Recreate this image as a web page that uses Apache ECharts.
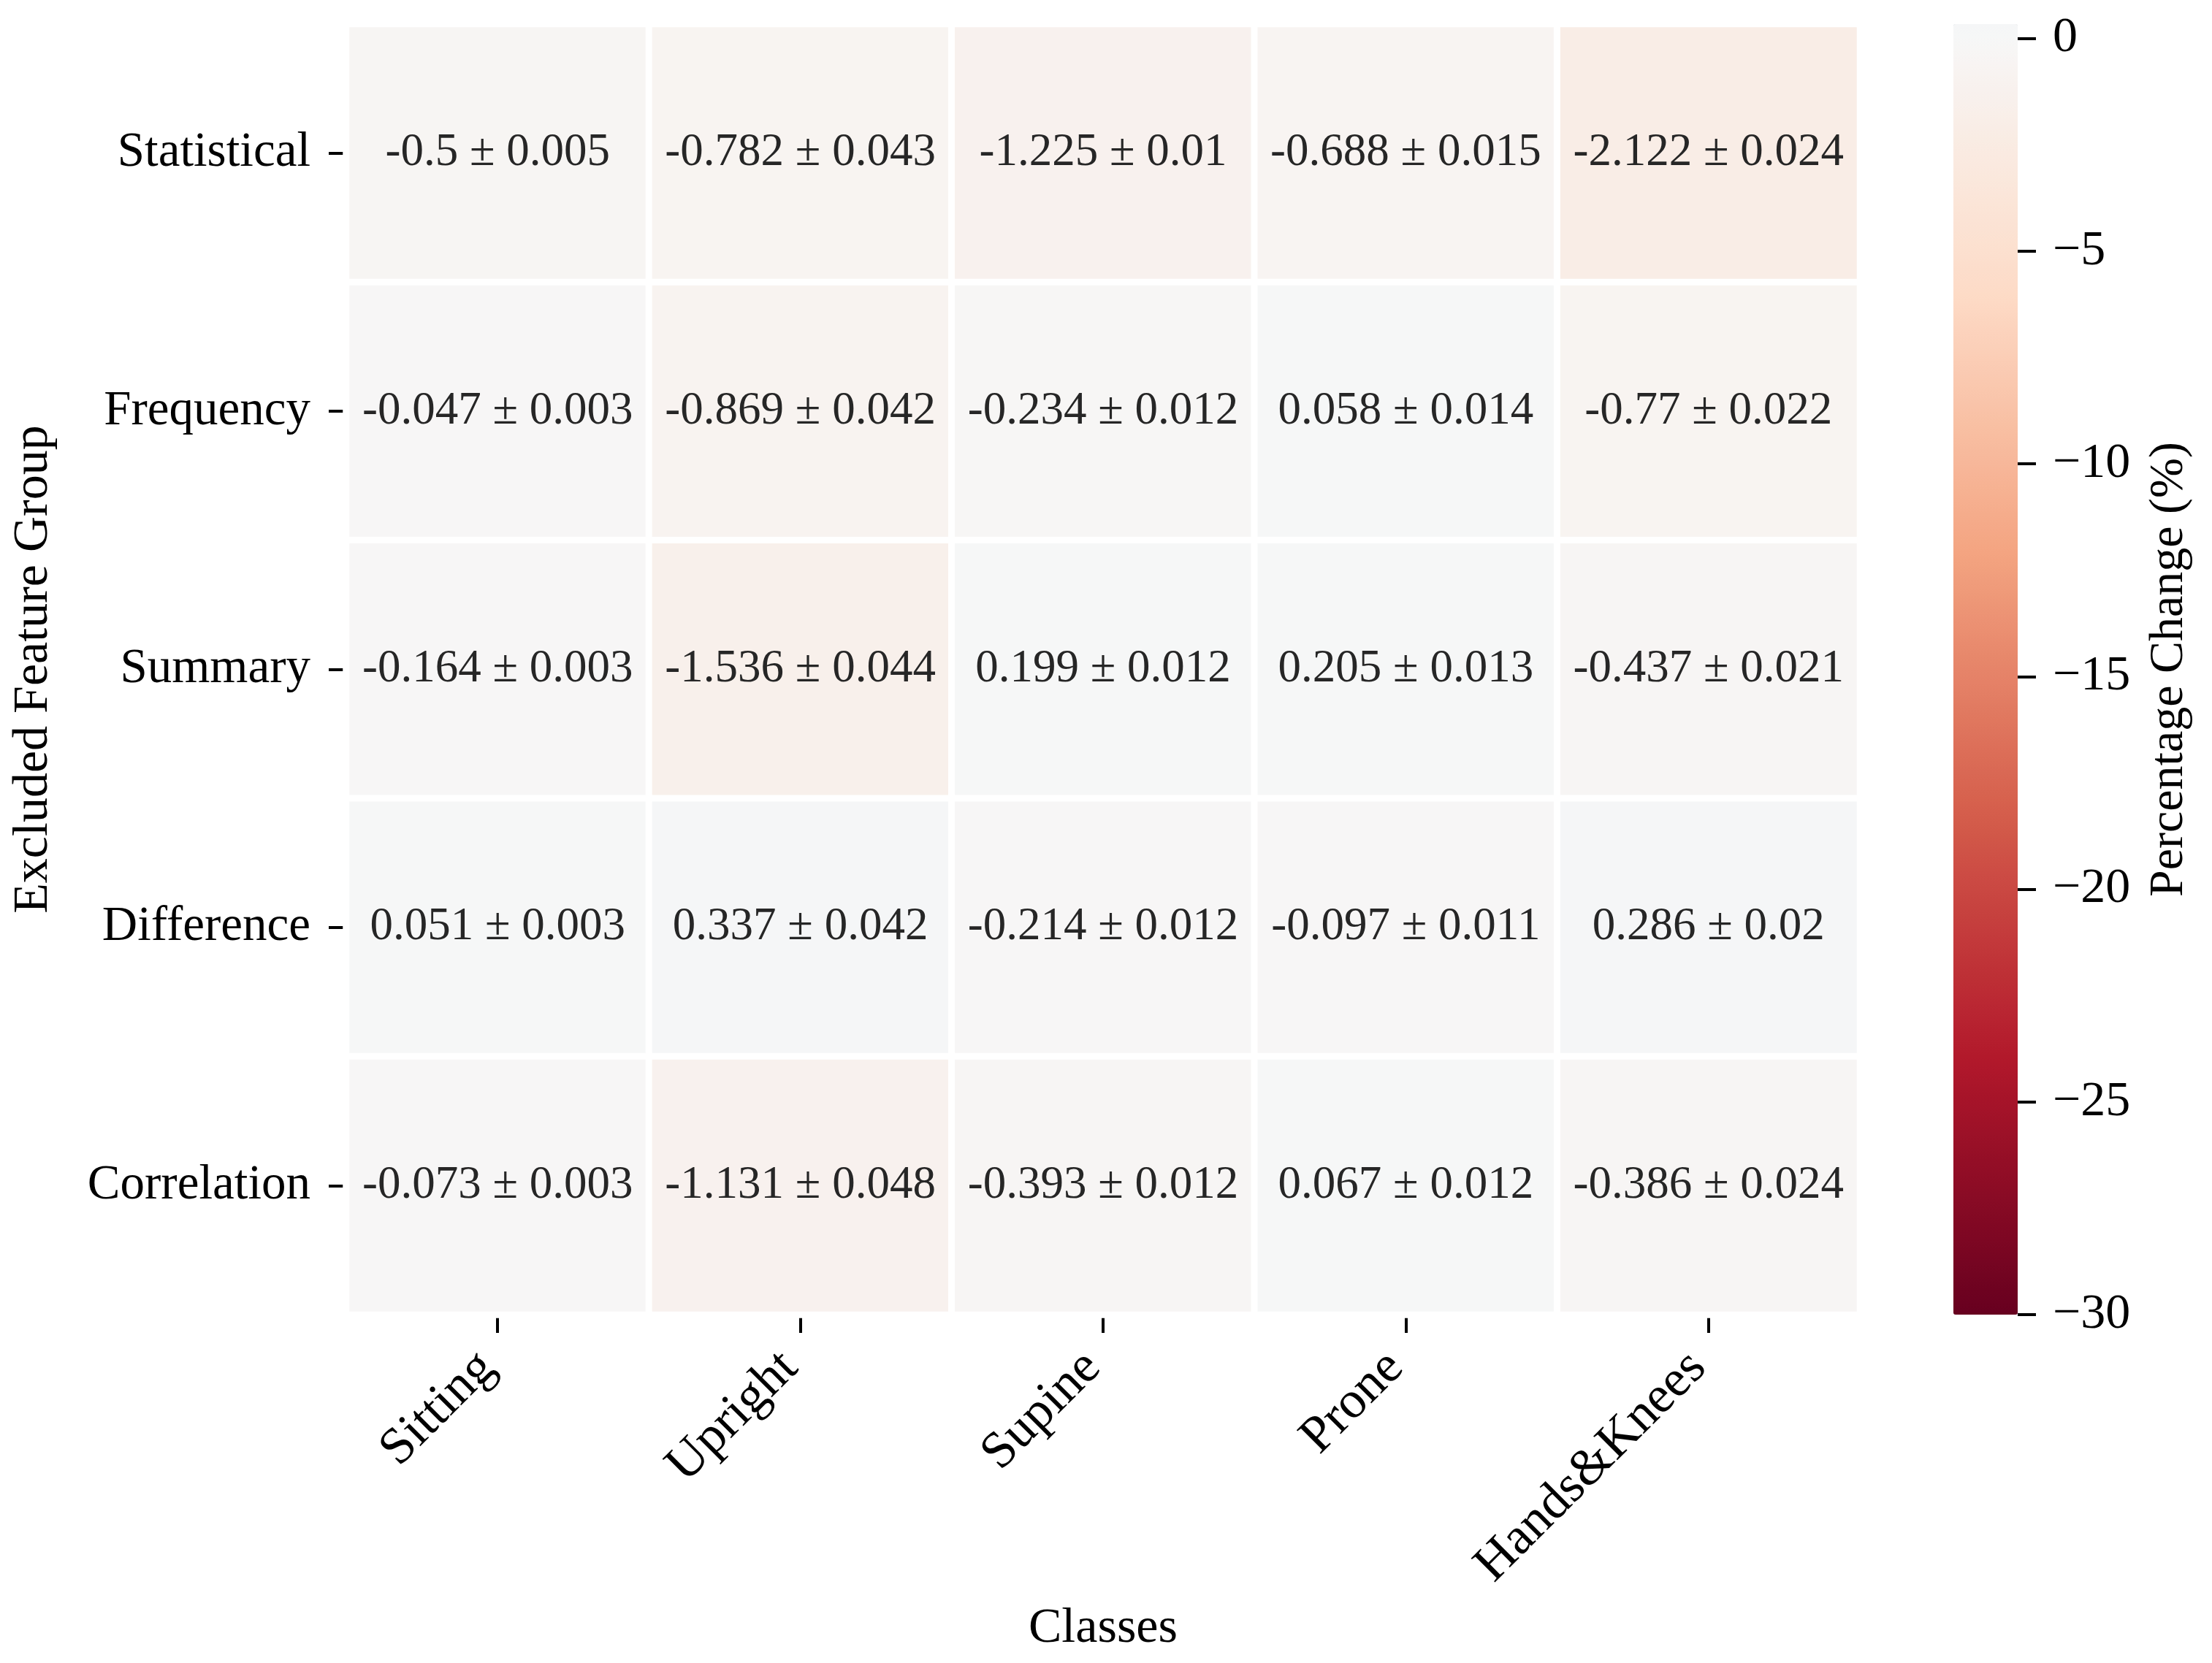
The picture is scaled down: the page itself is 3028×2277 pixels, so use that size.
<!DOCTYPE html>
<html><head><meta charset="utf-8">
<script src="https://cdn.jsdelivr.net/npm/echarts@6/dist/echarts.min.js"></script>
<style>html,body{margin:0;padding:0;background:#fff}#c{width:3028px;height:2277px}</style>
</head><body><div id="c"></div>
<script>
// ---- data ----
const classes = ['Sitting', 'Upright', 'Supine', 'Prone', 'Hands&Knees'];
const groups = ['Statistical', 'Frequency', 'Summary', 'Difference', 'Correlation'];
const statisticalMean = [-0.5, -0.782, -1.225, -0.688, -2.122];
const statisticalStd  = [0.005, 0.043, 0.01, 0.015, 0.024];
const frequencyMean   = [-0.047, -0.869, -0.234, 0.058, -0.77];
const frequencyStd    = [0.003, 0.042, 0.012, 0.014, 0.022];
const summaryMean     = [-0.164, -1.536, 0.199, 0.205, -0.437];
const summaryStd      = [0.003, 0.044, 0.012, 0.013, 0.021];
const differenceMean  = [0.051, 0.337, -0.214, -0.097, 0.286];
const differenceStd   = [0.003, 0.042, 0.012, 0.011, 0.02];
const correlationMean = [-0.073, -1.131, -0.393, 0.067, -0.386];
const correlationStd  = [0.003, 0.048, 0.012, 0.012, 0.024];
const colorbarTicks = [0, -5, -10, -15, -20, -25, -30];
const colorMin = -30;

const meanRows = [statisticalMean, frequencyMean, summaryMean, differenceMean, correlationMean];
const stdRows = [statisticalStd, frequencyStd, summaryStd, differenceStd, correlationStd];
const colorMax = Math.max(...meanRows.flat());

const data = [];
meanRows.forEach((row, r) => row.forEach((v, c) => {
  data.push({ value: [c, r, v], label: String(v) + ' \u00b1 ' + String(stdRows[r][c]) });
}));

// RdBu colormap centred at 0 (seaborn style)
const RDBU = ['#67001f','#b2182b','#d6604d','#f4a582','#fddbc7','#f7f7f7','#d1e5f0','#92c5de','#4393c3','#2166ac','#053061'];
function hex2rgb(h){return [parseInt(h.slice(1,3),16),parseInt(h.slice(3,5),16),parseInt(h.slice(5,7),16)];}
function rdbu(t){
  t = Math.max(0, Math.min(1, t));
  const p = t * (RDBU.length - 1); const i = Math.min(Math.floor(p), RDBU.length - 2); const f = p - i;
  const a = hex2rgb(RDBU[i]), b = hex2rgb(RDBU[i+1]);
  return 'rgb(' + a.map((x, k) => Math.round(x + (b[k]-x)*f)).join(',') + ')';
}
const vrange = Math.max(colorMax, -colorMin);
const cmapColors = [];
const N = 120;
for (let k = 0; k <= N; k++) {
  const v = colorMin + (colorMax - colorMin) * k / N;
  cmapColors.push(rdbu((v + vrange) / (2 * vrange)));
}

const FONT = 'Liberation Serif';
const gL = 474, gT = 33, gW = 2072, gH = 1767;
const cbL = 2674, cbW = 88;

const chart = echarts.init(document.getElementById('c'), null, { renderer: 'canvas' });
chart.setOption({
  backgroundColor: '#ffffff',
  animation: false,
  grid: [
    { left: gL, top: gT, width: gW, height: gH, containLabel: false },
    { left: cbL, top: gT, width: cbW, height: gH, containLabel: false }
  ],
  xAxis: [
    {
      type: 'category', data: classes, gridIndex: 0, position: 'bottom',
      name: 'Classes', nameLocation: 'middle', nameGap: 396,
      nameTextStyle: { fontFamily: FONT, fontSize: 68, color: '#000' },
      axisLine: { show: false },
      axisTick: { show: true, alignWithLabel: true, length: 25, lineStyle: { color: '#000', width: 4 } },
      axisLabel: { rotate: 45, margin: 48, padding: [0, 20, 0, 0], fontFamily: FONT, fontSize: 71, color: '#000', interval: 0 },
      splitLine: { show: false }
    },
    { type: 'category', data: [''], gridIndex: 1, show: false,
      axisLine: { show: false }, axisTick: { show: false }, axisLabel: { show: false } }
  ],
  yAxis: [
    {
      type: 'category', data: groups, gridIndex: 0, inverse: true,
      name: 'Excluded Feature Group', nameLocation: 'middle', nameGap: 394,
      nameTextStyle: { fontFamily: FONT, fontSize: 68, color: '#000' },
      axisLine: { show: false },
      axisTick: { show: true, alignWithLabel: true, length: 24, lineStyle: { color: '#000', width: 4 } },
      axisLabel: { margin: 49, fontFamily: FONT, fontSize: 67, color: '#000', interval: 0 },
      splitLine: { show: false }
    },
    {
      type: 'value', gridIndex: 1, position: 'right', min: colorMin, max: colorMax,
      name: 'Percentage Change (%)', nameLocation: 'middle', nameGap: 175,
      nameTextStyle: { fontFamily: FONT, fontSize: 66, color: '#000' },
      axisLine: { show: false },
      splitLine: { show: false },
      axisTick: { show: true, length: 25, customValues: colorbarTicks, lineStyle: { color: '#000', width: 4 } },
      axisLabel: { margin: 48, fontFamily: FONT, fontSize: 68, color: '#000', customValues: colorbarTicks,
        formatter: v => (v < 0 ? '\u2212' + Math.abs(v) : String(v)) }
    }
  ],
  visualMap: {
    type: 'continuous', min: colorMin, max: colorMax, calculable: false, seriesIndex: 0,
    orient: 'vertical', left: cbL, top: gT, itemWidth: cbW, itemHeight: gH, padding: 0,
    hoverLink: false, inRange: { color: cmapColors }, text: null, showLabel: false
  },
  series: [
    {
      type: 'heatmap', xAxisIndex: 0, yAxisIndex: 0, data: data,
      itemStyle: { borderColor: '#ffffff', borderWidth: 9 },
      label: { show: true, formatter: p => p.data.label, fontFamily: FONT, fontSize: 63, color: '#262626' },
      emphasis: { disabled: true }
    }
  ]
});
</script></body></html>
